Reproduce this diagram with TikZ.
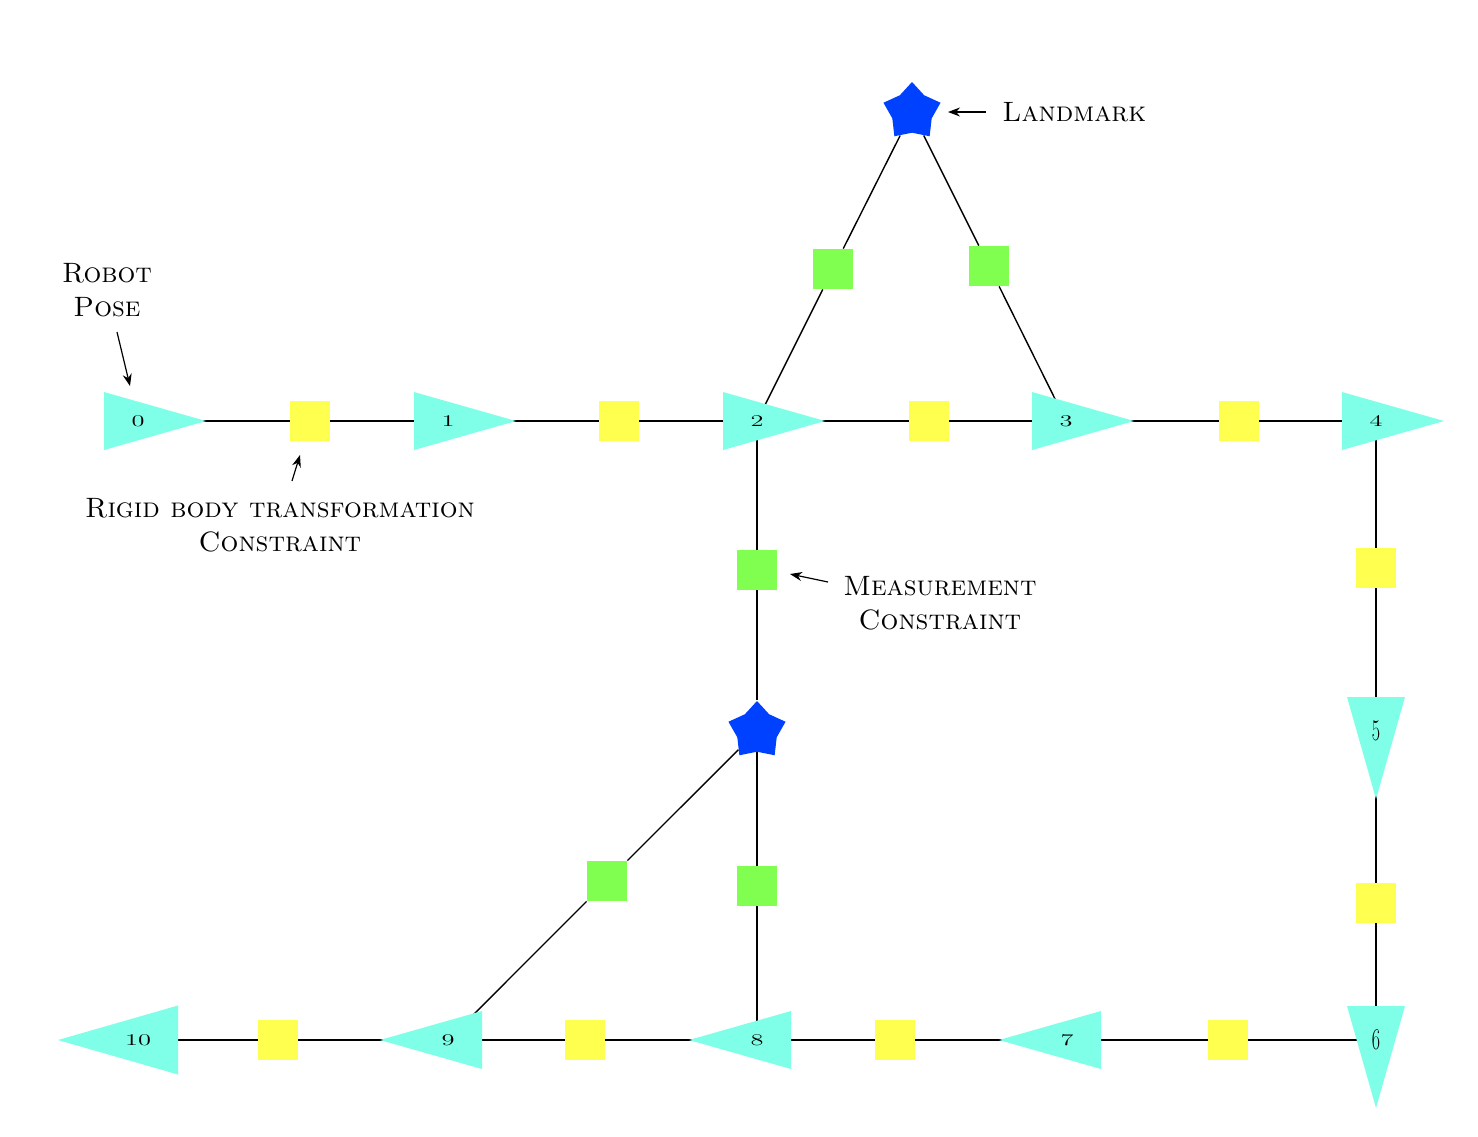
\documentclass[tikz,border=0pt]{standalone}
\usepackage{graphicx}
\usetikzlibrary{shapes.geometric,arrows.meta}
\pgfdeclarelayer{background}
\pgfsetlayers{background,main}
\definecolor{posec}{HTML}{7FFFE8}
\definecolor{odoc}{HTML}{FFFF50}
\definecolor{measc}{HTML}{80FF50}
\definecolor{landc}{HTML}{0040FF}
\tikzset{
  posefill/.style={fill=posec, draw=none},
  poselabel/.style={inner sep=1pt, font=\fontsize{12}{12}\selectfont},
  odobox/.style={rectangle, fill=odoc, draw=none, minimum size=20pt, inner sep=0pt},
  measbox/.style={rectangle, fill=measc, draw=none, minimum size=20pt, inner sep=0pt},
  landstar/.style={star, star points=5, star point ratio=1.45, fill=landc, draw=none, minimum size=30pt, inner sep=0pt},
  link/.style={line width=0.7pt, black},
  note/.style={font=\fontsize{14}{17}\selectfont, align=center, inner sep=0pt},
  pointer/.style={-{Stealth[length=6pt,width=4.5pt]}, line width=0.6pt, black}
}
% name, position, rotation, back distance, half base, label
\newcommand\posetri[6]{%
  \fill[posefill, shift={#2}, rotate=#3] (-#4,-#5) -- (2*#4,0) -- (-#4,#5) -- cycle;
  \node[poselabel] (#1) at #2 {#6};
}
\newcommand\scdigit[1]{\scalebox{1.1}[0.68]{#1}}
\newcommand\bigdigit[1]{{\fontsize{15}{15}\selectfont\scalebox{0.6}[1]{#1}}}
\begin{document}
\begin{tikzpicture}[x=0.5pt,y=-0.5pt]
\useasboundingbox (0,0) rectangle (1478,1136);

% poses
\posetri{t0}{(138,421)}{0}{34}{29}{\scdigit{0}}
\posetri{t1}{(448,421)}{0}{34}{29}{\scdigit{1}}
\posetri{t2}{(757,421)}{0}{34}{29}{\scdigit{2}}
\posetri{t3}{(1066,421)}{0}{34}{29}{\scdigit{3}}
\posetri{t4}{(1376,421)}{0}{34}{29}{\scdigit{4}}
\posetri{t5}{(1376,731)}{-90}{34}{29}{\bigdigit{5}}
\posetri{t6}{(1376,1040)}{-90}{34}{29}{\bigdigit{6}}
\posetri{t7}{(1067,1040)}{180}{34}{29}{\scdigit{7}}
\posetri{t8}{(757,1040)}{180}{34}{29}{\scdigit{8}}
\posetri{t9}{(448,1040)}{180}{34}{29}{\scdigit{9}}
\posetri{t10}{(138,1040)}{180}{40}{34.5}{\scdigit{10}}

% odometry constraints
\node[odobox] (o1) at (310,421) {};
\node[odobox] (o2) at (619,421) {};
\node[odobox] (o3) at (929,421) {};
\node[odobox] (o4) at (1239,421) {};
\node[odobox] (o5) at (1376,568) {};
\node[odobox] (o6) at (1376,903) {};
\node[odobox] (o7) at (1228,1040) {};
\node[odobox] (o8) at (895,1040) {};
\node[odobox] (o9) at (585,1040) {};
\node[odobox] (o10) at (278,1040) {};

% measurement constraints
\node[measbox] (m1) at (833,269) {};
\node[measbox] (m2) at (989,266) {};
\node[measbox] (m3) at (757,570) {};
\node[measbox] (m4) at (607,881) {};
\node[measbox] (m5) at (757,886) {};

% landmarks
\node[landstar] (l1) at (912,112) {};
\node[landstar] (l2) at (757,731) {};

\begin{pgfonlayer}{background}
\draw[link] (t0) -- (o1); \draw[link] (o1) -- (t1);
\draw[link] (t1) -- (o2); \draw[link] (o2) -- (t2);
\draw[link] (t2) -- (o3); \draw[link] (o3) -- (t3);
\draw[link] (t3) -- (o4); \draw[link] (o4) -- (t4);
\draw[link] (t4) -- (o5); \draw[link] (o5) -- (t5);
\draw[link] (t5) -- (o6); \draw[link] (o6) -- (t6);
\draw[link] (t6) -- (o7); \draw[link] (o7) -- (t7);
\draw[link] (t7) -- (o8); \draw[link] (o8) -- (t8);
\draw[link] (t8) -- (o9); \draw[link] (o9) -- (t9);
\draw[link] (t9) -- (o10); \draw[link] (o10) -- (t10);
\draw[link] (t2) -- (m3); \draw[link] (m3) -- (l2);
\draw[link] (l2) -- (m5); \draw[link] (m5) -- (t8);
\draw[link] (l2) -- (m4); \draw[link] (m4) -- (t9);
\draw[link] (l1) -- (m1); \draw[link] (m1) -- (t2);
\draw[link] (l1) -- (m2); \draw[link] (m2) -- (t3);
\end{pgfonlayer}

% annotations
\node[note] (nrobot) at (107,290) {\textsc{Robot}\\\textsc{Pose}};
\coordinate (rpa) at (117,332);
\coordinate (rpb) at (130,386);
\draw[pointer] (rpa) -- (rpb);

\node[note] (nrigid) at (280,525) {\textsc{Rigid body transformation}\\\textsc{Constraint}};
\coordinate (rga) at (292,481);
\coordinate (rgb) at (300,455);
\draw[pointer] (rga) -- (rgb);

\node[note] (nmeas) at (940,603) {\textsc{Measurement}\\\textsc{Constraint}};
\coordinate (msa) at (828,582);
\coordinate (msb) at (790,574);
\draw[pointer] (msa) -- (msb);

\node[note, anchor=west] (nland) at (1002,112) {\textsc{Landmark}};
\coordinate (lma) at (986,112);
\coordinate (lmb) at (948,112);
\draw[pointer] (lma) -- (lmb);
\end{tikzpicture}
\end{document}
